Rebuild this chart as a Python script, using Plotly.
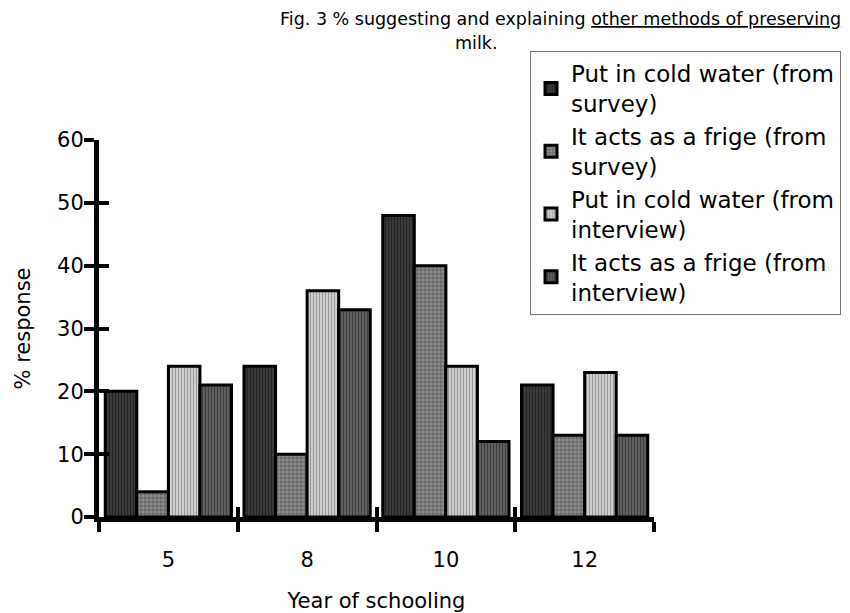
import plotly.graph_objects as go

years = ["5", "8", "10", "12"]
series_names = [
    "Put in cold water (from<br>survey)",
    "It acts as a frige (from<br>survey)",
    "Put in cold water (from<br>interview)",
    "It acts as a frige (from<br>interview)",
]
cold_survey = [20, 24, 48, 21]
frige_survey = [4, 10, 40, 13]
cold_interview = [24, 36, 24, 23]
frige_interview = [21, 33, 12, 13]
y_ticks = [0, 10, 20, 30, 40, 50, 60]

values = [cold_survey, frige_survey, cold_interview, frige_interview]
patterns = [
    dict(shape="|", bgcolor="#3c3c3c", fgcolor="#0a0a0a", size=3, solidity=0.4),
    dict(shape="+", bgcolor="#8e8e8e", fgcolor="#1e1e1e", size=4, solidity=0.35),
    dict(shape="|", bgcolor="#d4d4d4", fgcolor="#606060", size=3, solidity=0.4),
    dict(shape="|", bgcolor="#666666", fgcolor="#151515", size=3, solidity=0.45),
]

FONT = "DejaVu Sans"
ML, MR, MT, MB = 91, 204, 132, 104
W, H = 850, 613
pw, ph = W - ML - MR, H - MT - MB

fig = go.Figure()
for name, vals, pat in zip(series_names, values, patterns):
    fig.add_trace(go.Bar(
        x=years, y=vals, name=name,
        marker=dict(color=pat["bgcolor"], pattern=pat,
                    line=dict(color="black", width=3)),
    ))
# invisible twin trace so the overlay axes (inward half of the crossing ticks) render
fig.add_trace(go.Bar(x=years, y=cold_survey, xaxis="x2", yaxis="y2",
                     showlegend=False, hoverinfo="skip", opacity=0))

axis_common = dict(showgrid=False, zeroline=False, tickcolor="black",
                   tickwidth=4, ticklen=10, automargin=False)
fig.update_layout(
    width=W, height=H,
    paper_bgcolor="white", plot_bgcolor="white",
    margin=dict(l=ML, r=MR, t=MT, b=MB),
    barmode="group", bargap=0.09, bargroupgap=0,
    font=dict(family=FONT, size=21, color="black"),
    showlegend=True,
    legend=dict(
        x=(522 - ML) / pw, y=(H - MB - 43) / ph, xanchor="left", yanchor="top",
        bordercolor="#777777", borderwidth=1, bgcolor="white",
        font=dict(family=FONT, size=23, color="black"),
        tracegroupgap=0, itemwidth=30,
    ),
    xaxis=dict(
        type="category", showline=True, linecolor="black", linewidth=5,
        ticks="outside", tickson="boundaries", **axis_common,
        tickfont=dict(size=21), ticklabelstandoff=20,
        title=dict(text="Year of schooling", font=dict(size=21), standoff=24),
    ),
    yaxis=dict(
        range=[0, 60], tickvals=y_ticks, showline=True, linecolor="black",
        linewidth=5, ticks="outside", **axis_common,
        tickfont=dict(size=21), ticklabelstandoff=-4,
        title=dict(text="% response", font=dict(size=21), standoff=22),
    ),
    xaxis2=dict(type="category", overlaying="x", anchor="y2", showline=False,
                ticks="inside", tickson="boundaries", showticklabels=False,
                **axis_common),
    yaxis2=dict(range=[0, 60], tickvals=y_ticks, overlaying="y", anchor="x2",
                side="left", showline=False, ticks="inside",
                showticklabels=False, **axis_common),
)
title_line1 = ("Fig. 3 % suggesting and explaining "
               "<span style='text-decoration:underline'>other methods of preserving</span>")
fig.add_annotation(text=title_line1,
                   x=(552 - ML) / pw, y=(H - MB - 11) / ph, xref="paper", yref="paper",
                   xanchor="center", yanchor="middle", showarrow=False,
                   font=dict(family=FONT, size=17.5))
fig.add_annotation(text="milk.",
                   x=(468 - ML) / pw, y=(H - MB - 35) / ph, xref="paper", yref="paper",
                   xanchor="center", yanchor="middle", showarrow=False,
                   font=dict(family=FONT, size=17.5))

fig.write_html("out.html")
